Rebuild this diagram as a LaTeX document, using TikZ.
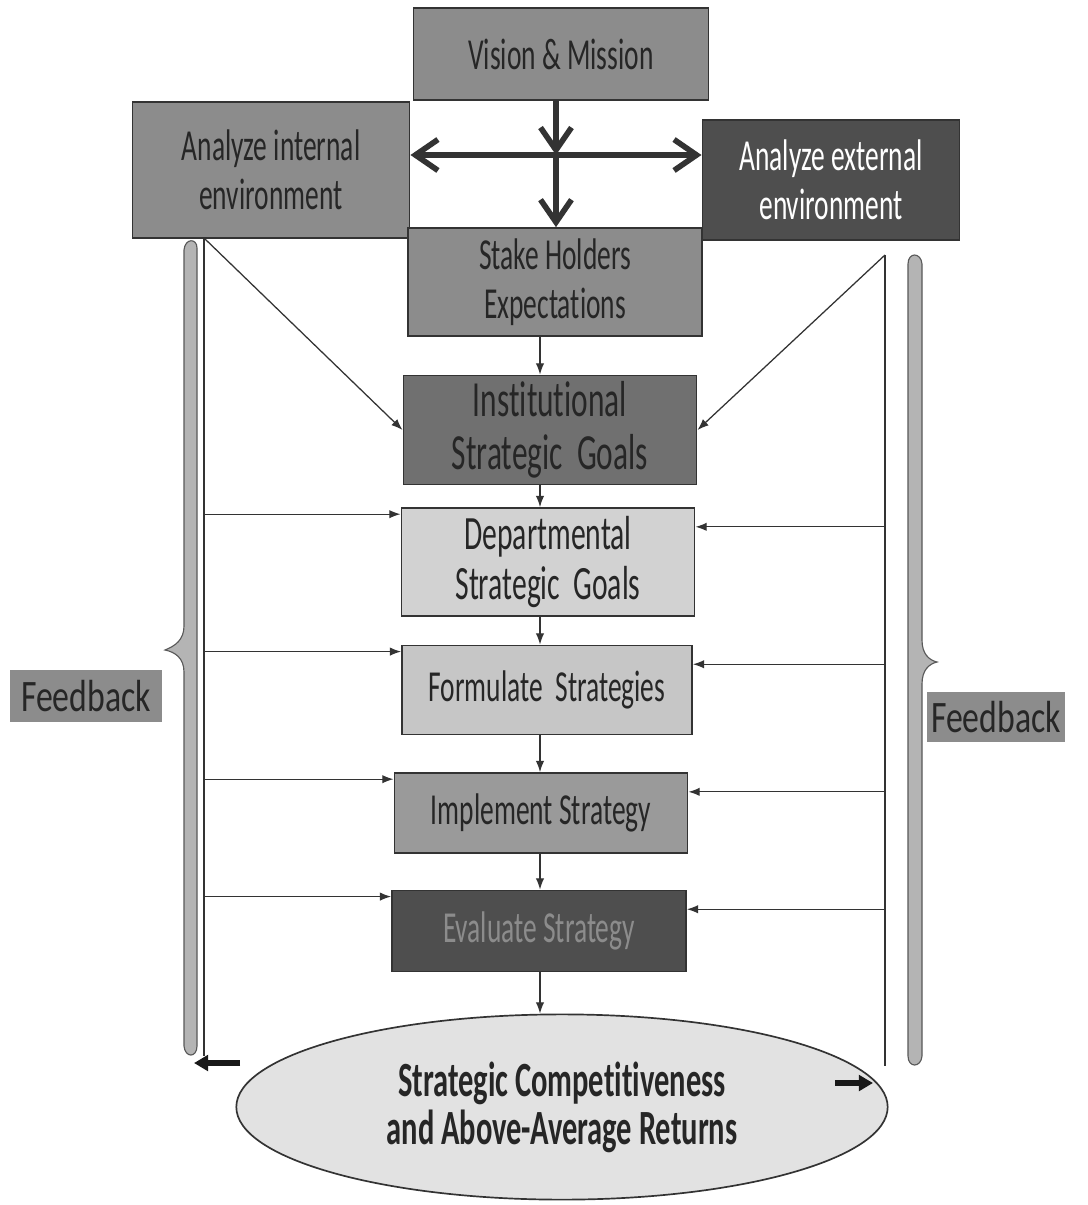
\documentclass[tikz,border=0pt]{standalone}
\usepackage{fontspec}
\setmainfont{Carlito}[FakeStretch=0.62,Ligatures=NoCommon]
\newfontfamily\widefont{Carlito}[FakeStretch=0.75,Ligatures=NoCommon]
\usetikzlibrary{arrows.meta,shapes.geometric}
\definecolor{midgray}{HTML}{8C8C8C}
\definecolor{darkgray}{HTML}{4E4E4E}
\definecolor{instgray}{HTML}{707070}
\definecolor{lightgray}{HTML}{D2D2D2}
\definecolor{formgray}{HTML}{C6C6C6}
\definecolor{implgray}{HTML}{9A9A9A}
\definecolor{ovalgray}{HTML}{E2E2E2}
\definecolor{bracegray}{HTML}{B4B4B4}
\begin{document}
\begin{tikzpicture}[x=0.025cm,y=-0.025cm,
    box/.style={draw=black!80,line width=1.2pt,align=center,inner sep=0pt,text=black!85,font=\fontsize{31.5}{35}\selectfont},
    flow/.style={-{Latex[length=8pt,width=6pt]},line width=0.9pt,black!80},
    bigarrow/.style={-{Straight Barb[length=16pt,width=22pt]},line width=4pt,black!80},
    fatarrow/.style={-{Triangle[length=10pt,width=11pt]},line width=4pt,black!90},
    brace/.style={fill=bracegray,draw=black!65,line width=0.8pt},
    fbbox/.style={fill=midgray,align=center,inner sep=0pt,text=black!85,font=\widefont\fontsize{32}{36}\selectfont}]
    \useasboundingbox (0,0) rectangle (1087,1205);
    \fill[white] (0,0) rectangle (1087,1205);
    % top row
    \node[box,fill=midgray,minimum width=7.38cm,minimum height=2.3cm] (V) at (561,54) {Vision \& Mission};
    \node[box,fill=midgray,minimum width=6.93cm,minimum height=3.4cm] (AI) at (271,170) {Analyze internal\\ environment};
    \node[box,fill=darkgray,text=white,minimum width=6.43cm,minimum height=3cm] (AE) at (831,180) {Analyze external\\ environment};
    \node[box,fill=midgray,minimum width=7.35cm,minimum height=2.7cm] (SH) at (555,282) {Stake Holders\\ Expectations};
    % main column
    \node[box,fill=instgray,minimum width=7.33cm,minimum height=2.73cm,font=\fontsize{36}{38}\selectfont] (IG) at (550,430) {Institutional\\ Strategic~ Goals};
    \node[box,fill=lightgray,minimum width=7.33cm,minimum height=2.7cm,font=\fontsize{34}{36}\selectfont] (DG) at (548,562) {Departmental\\ Strategic~ Goals};
    \node[box,fill=formgray,minimum width=7.25cm,minimum height=2.23cm] (FS) at (547,690) {Formulate~ Strategies};
    \node[box,fill=implgray,minimum width=7.33cm,minimum height=2cm] (IS) at (541,813) {Implement Strategy};
    \node[box,fill=darkgray,text=midgray,minimum width=7.35cm,minimum height=2.03cm] (ES) at (539,931) {Evaluate Strategy};
    \node[ellipse,draw=black!80,line width=1.2pt,fill=ovalgray,minimum width=16.28cm,minimum height=4.63cm,align=center,text=black!85,font=\fontsize{35}{34}\selectfont\bfseries] (R) at (562,1107) {Strategic Competitiveness\\ and Above-Average Returns};
    % feedback labels
    \node[fbbox,minimum width=3.8cm,minimum height=1.3cm] (FL) at (86,696) {Feedback};
    \node[fbbox,minimum width=3.43cm,minimum height=1.25cm] (FR) at (996,717) {Feedback};
    % braces
    \draw[brace] (197,248) -- (197,1046) .. controls (197,1058) and (185,1058) .. (184,1046) -- (184,672)
        .. controls (184,658) and (175,652) .. (165,650) .. controls (175,646) and (184,640) .. (184,626)
        -- (184,250) .. controls (185,238) and (197,238) .. cycle;
    \draw[brace] (908,264) -- (908,1056) .. controls (908,1068) and (921,1068) .. (922,1056) -- (922,684)
        .. controls (922,670) and (929,664) .. (937,662) .. controls (929,660) and (922,654) .. (922,640)
        -- (922,264) .. controls (921,252) and (908,252) .. cycle;
    % top arrows
    \coordinate (J) at (556,155);
    \draw[bigarrow] (J |- V.south) -- (J);
    \draw[bigarrow] (J) -- (J |- SH.north);
    \draw[bigarrow,{Straight Barb[length=16pt,width=22pt]}-{Straight Barb[length=16pt,width=22pt]}] (AI.east |- J) -- (AE.west |- J);
    % feedback lines
    \coordinate (FLtop) at (204,238);
    \coordinate (FLbot) at (204,1056);
    \coordinate (FRtop) at (885,255);
    \coordinate (FRbot) at (885,1066);
    \draw[line width=0.9pt,black!80] (FLtop) -- (FLbot);
    \draw[line width=0.9pt,black!80] (FRtop) -- (FRbot);
    \draw[flow] (FLtop) -- (IG.west);
    \draw[flow] (FRtop) -- (IG.east);
    \foreach \b in {DG,FS,IS,ES} {
        \coordinate (l) at ([yshift=-5pt]\b.north west);
        \coordinate (r) at ([yshift=-14pt]\b.north east);
        \draw[flow] (l -| FLtop) -- (l);
        \draw[flow] (r -| FRtop) -- (r);
    }
    % main flow
    \coordinate (C) at (540,0);
    \foreach \a/\b in {SH/IG,IG/DG,DG/FS,FS/IS,IS/ES,ES/R}
        \draw[flow] (\a.south -| C) -- (\b.north -| C);
    % returns
    \coordinate (BL1) at (240,1063);
    \coordinate (BL2) at (194,1063);
    \coordinate (BR1) at (835,1083);
    \coordinate (BR2) at (873,1083);
    \draw[fatarrow] (BL1) -- (BL2);
    \draw[fatarrow] (BR1) -- (BR2);
\end{tikzpicture}
\end{document}
